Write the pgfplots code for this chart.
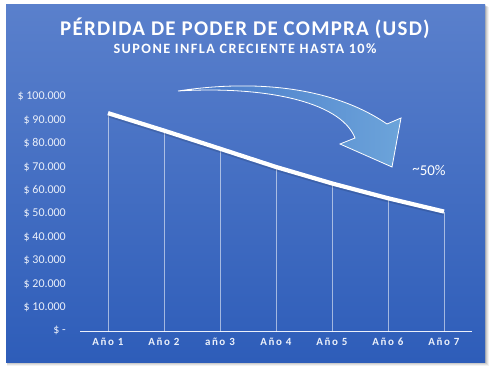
\documentclass[border=0pt]{standalone}
\usepackage{pgfplots}
\pgfplotsset{compat=1.18}
\usepackage{fontspec}
\setmainfont{Carlito}
\newfontfamily\xlab[LetterSpace=14]{Carlito}
\newfontfamily\titlef[LetterSpace=6]{Carlito}
\newfontfamily\subf[LetterSpace=10]{Carlito}
\definecolor{bgtop}{RGB}{90,128,204}
\definecolor{bgbot}{RGB}{46,93,185}
\definecolor{arrL}{RGB}{70,118,200}
\definecolor{arrR}{RGB}{108,164,218}
\definecolor{lab}{RGB}{235,240,250}
\begin{document}
\begin{tikzpicture}[x=1bp,y=1bp]
\useasboundingbox (0,0) rectangle (492,388);
\fill[white] (0,0) rectangle (492,388);
% shadow
\foreach \d/\o in {4/0.05,3/0.07,2/0.09,1/0.12}{
  \fill[black,opacity=\o] (6+\d*0.3,26-\d) rectangle (485+\d,383-\d*0.5);
}
\shade[top color=bgtop,bottom color=bgbot] (6,26) rectangle (485,383);
% titles
\node[text=white,font=\titlef\bfseries\fontsize{21}{23}\selectfont] at (245,360) {PÉRDIDA DE PODER DE COMPRA (USD)};
\node[text=white,font=\subf\bfseries\fontsize{14.3}{16}\selectfont] at (245,339) {SUPONE INFLA CRECIENTE HASTA 10\%};
\begin{axis}[
  at={(80bp,56.5bp)}, anchor=origin,
  scale only axis, width=392bp, height=234.8bp,
  xmin=0.5, xmax=7.5, ymin=0, ymax=100000,
  axis y line=none,
  axis x line*=bottom,
  x axis line style={draw=lab,line width=0.9bp,-},
  xtick={1,...,7},
  xticklabels={Año 1,Año 2,año 3,Año 4,Año 5,Año 6,Año 7},
  xticklabel style={text=lab,font=\xlab\bfseries\fontsize{11}{12}\selectfont,yshift=-3bp},
  major tick length=0pt,
  ytick={0,10000,...,100000},
  clip=false,
]
\addplot[ycomb,white,opacity=0.55,line width=0.6bp,mark=none] coordinates {
(1,93000) (2,85560) (3,77860) (4,70074) (5,63067) (6,56760) (7,51084)};
\addplot[black,opacity=0.12,line width=5bp,yshift=-1.5bp,mark=none] coordinates {
(1,93000) (2,85560) (3,77860) (4,70074) (5,63067) (6,56760) (7,51084)};
\addplot[white,line width=4.2bp,mark=none,line join=round] coordinates {
(1,93000) (2,85560) (3,77860) (4,70074) (5,63067) (6,56760) (7,51084)};
\end{axis}
% y tick labels
\foreach \v/\t in {0/\$ -,1/\$ 10.000,2/\$ 20.000,3/\$ 30.000,4/\$ 40.000,5/\$ 50.000,6/\$ 60.000,7/\$ 70.000,8/\$ 80.000,9/\$ 90.000,10/\$ 100.000}{
  \node[anchor=east,text=lab,font=\fontsize{12}{13}\selectfont,inner sep=0pt] at (66,57.3+\v*23.4) {\t};
}
% curved arrow
\shade[left color=arrL,right color=arrR,draw=white,line width=0.8bp,line join=miter]
 (178,297) .. controls (250,308) and (330,303) .. (387,264)
 -- (401,270) -- (392,221) -- (340,244) -- (355,250)
 .. controls (340,288) and (260,302) .. (178,297) -- cycle;
\node[text=white,font=\fontsize{15}{16}\selectfont] at (429,218) {\raisebox{0.2ex}{\textasciitilde}50\%};
\end{tikzpicture}
\end{document}
